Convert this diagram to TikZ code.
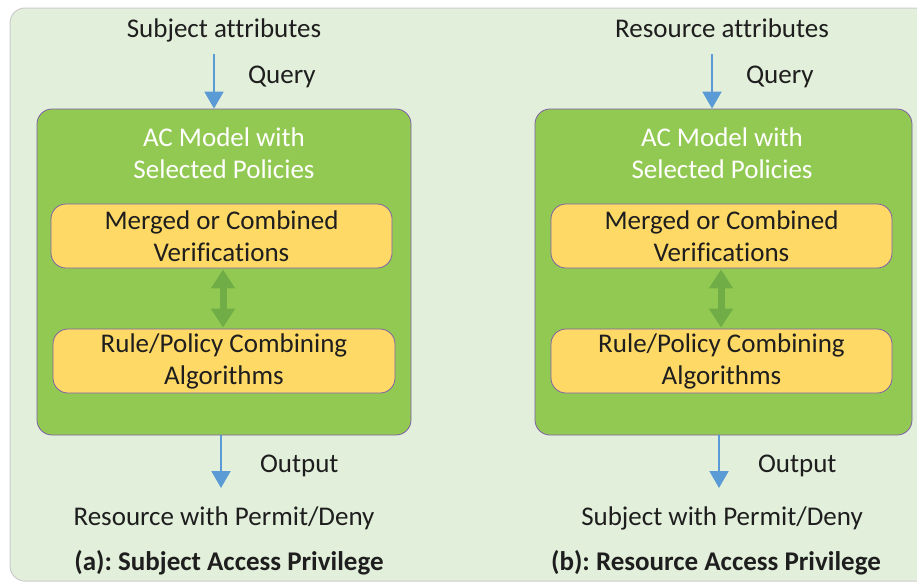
\documentclass[tikz,border=0pt]{standalone}
\usepackage{fontspec}
\setmainfont{Carlito}[Ligatures=NoCommon]
\usetikzlibrary{positioning,arrows.meta}
\frenchspacing

\definecolor{bgGreen}{HTML}{E2EFDA}
\definecolor{boxGreen}{HTML}{92C952}
\definecolor{arrGreen}{HTML}{70AD47}
\definecolor{boxYellow}{HTML}{FFD966}
\definecolor{edgePurple}{HTML}{7F60A8}
\definecolor{qBlue}{HTML}{5B9BD5}
\definecolor{txt}{HTML}{1E1E1E}

\begin{document}
\begin{tikzpicture}[x=1pt,y=-1pt,
				every node/.style={font=\fontsize{27}{32}\selectfont, text=txt, align=center, inner sep=0pt},
				model/.style={rectangle, rounded corners=15pt, draw=edgePurple, line width=0.8pt, fill=boxGreen, minimum width=374pt, minimum height=326pt},
				inner/.style={rectangle, rounded corners=15pt, draw=edgePurple, line width=0.8pt, fill=boxYellow, minimum width=341pt, minimum height=64pt},
				flow/.style={draw=qBlue, line width=2pt, -{Triangle[width=19pt,length=17pt]}},
				link/.style={draw=arrGreen, line width=7pt, {Triangle[width=23pt,length=19pt]}-{Triangle[width=23pt,length=19pt]}, shorten <=1pt, shorten >=1pt}
			]
			\useasboundingbox (0,0) rectangle (917,584);
			\fill[white] (0,0) rectangle (917,584);
			\draw[black!20, fill=bgGreen, rounded corners=15pt, line width=1pt] (10,8) rectangle (940,581);
			
			% (a) subject side
			\node (attr_a) at (224,30) {Subject attributes};
			\node[model] (m_a) at (224,272) {};
			\node[text=white] (t_a) at (224,153) {AC Model with\\Selected Policies};
			\node[inner] (v_a) at (221.5,236) {Merged or Combined\\Verifications};
			\node[inner, minimum width=342pt] (r_a) at (224,361) {Rule/Policy Combining\\Algorithms};
			\node (res_a) at (224,518) {Resource with Permit/Deny};
			\node[font=\fontsize{27}{32}\selectfont\bfseries] (cap_a) at (229,563) {(a): Subject Access Privilege};
			
			\coordinate (q_a) at (214,54);
			\coordinate (o_a) at (221,488);
			\draw[flow] (q_a) -- (q_a |- m_a.north) node[pos=0.4, right=33pt, yshift=-1pt] {Query};
			\draw[flow] (o_a |- m_a.south) -- (o_a) node[pos=0.5, right=38pt, yshift=-4pt] {Output};
			\draw[link] (v_a.south -| 223,0) -- (r_a.north -| 223,0);
			
			% (b) resource side
			\node (attr_b) at (722,28) {Resource attributes};
			\node[model, minimum width=377pt] (m_b) at (723.5,272) {};
			\node[text=white] (t_b) at (722,153) {AC Model with\\Selected Policies};
			\node[inner] (v_b) at (721.5,236) {Merged or Combined\\Verifications};
			\node[inner] (r_b) at (721.5,361) {Rule/Policy Combining\\Algorithms};
			\node (res_b) at (722,518) {Subject with Permit/Deny};
			\node[font=\fontsize{27}{32}\selectfont\bfseries] (cap_b) at (716,563) {(b): Resource Access Privilege};
			
			\coordinate (q_b) at (712,54);
			\coordinate (o_b) at (719,488);
			\draw[flow] (q_b) -- (q_b |- m_b.north) node[pos=0.4, right=33pt, yshift=-1pt] {Query};
			\draw[flow] (o_b |- m_b.south) -- (o_b) node[pos=0.5, right=38pt, yshift=-4pt] {Output};
			\draw[link] (v_b.south -| 721,0) -- (r_b.north -| 721,0);
		\end{tikzpicture}
\end{document}
